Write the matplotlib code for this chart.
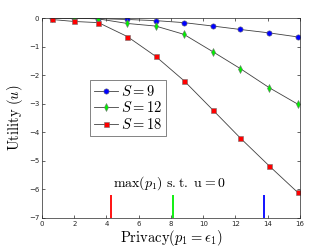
import numpy as np
import matplotlib
matplotlib.use("Agg")
import matplotlib.pyplot as plt

plt.rcParams['mathtext.fontset'] = 'cm'
plt.rcParams['font.family'] = ['DejaVu Sans']

# data
privacy = [0.6, 2.0, 3.5, 5.3, 7.05, 8.8, 10.6, 12.3, 14.1, 15.85]
util_s9 = [-0.01, -0.01, -0.02, -0.05, -0.09, -0.16, -0.28, -0.40, -0.52, -0.66]
util_s12 = [0.01, 0.0, -0.03, -0.19, -0.28, -0.57, -1.18, -1.77, -2.44, -3.01]
util_s18 = [-0.05, -0.12, -0.16, -0.65, -1.34, -2.19, -3.22, -4.20, -5.18, -6.10]

max_p1 = [4.3, 8.1, 13.8]
max_colors = ['red', '#00ee00', 'blue']

fig = plt.figure(figsize=(3.32, 2.49), dpi=100)
ax = fig.add_axes([0.1265, 0.1245, 0.777, 0.803])

line_kw = dict(color='#404040', lw=0.6, markersize=3.8, markeredgecolor='#707070',
               markeredgewidth=0.4)
ax.plot(privacy, util_s9, marker='o', markerfacecolor='blue', label=r'$S = 9$', **line_kw)
ax.plot(privacy, util_s12, marker='d', markerfacecolor='#00ee00', label=r'$S = 12$', **line_kw)
ax.plot(privacy, util_s18, marker='s', markerfacecolor='red', label=r'$S = 18$',
        **dict(line_kw, markersize=3.6))

ax.vlines(max_p1, -7, -6.2, colors=max_colors, lw=1.3)
ax.text(7.9, -5.78, r'$\max(p_1)\ \mathrm{s.t.\ u} = 0$', ha='center', va='center',
        fontsize=10)

ax.set_xlim(0, 16)
ax.set_ylim(-7, 0)
ax.set_xticks(np.arange(0, 17, 2))
ax.set_yticks(np.arange(-7, 1, 1))
ax.tick_params(direction='in', labelsize=5, length=2.5, width=0.5, colors='#262626',
               top=True, right=True, pad=2)
for s in ax.spines.values():
    s.set_color('#262626')
    s.set_linewidth(0.5)

ax.set_xlabel(r'$\mathrm{Privacy}(p_1 = \epsilon_1)$', fontsize=10.5, labelpad=1)
ax.set_ylabel(r'$\mathrm{Utility}\ (u)$', fontsize=10.5, labelpad=3)

leg = ax.legend(loc='upper left', bbox_to_anchor=(0.186, 0.69), fontsize=10.5,
                frameon=True, fancybox=False, edgecolor='#262626', handlelength=1.7,
                handletextpad=0.2, borderpad=0.25, labelspacing=0.12, borderaxespad=0)
leg.get_frame().set_linewidth(0.5)

fig.savefig('out.png', dpi=100)
